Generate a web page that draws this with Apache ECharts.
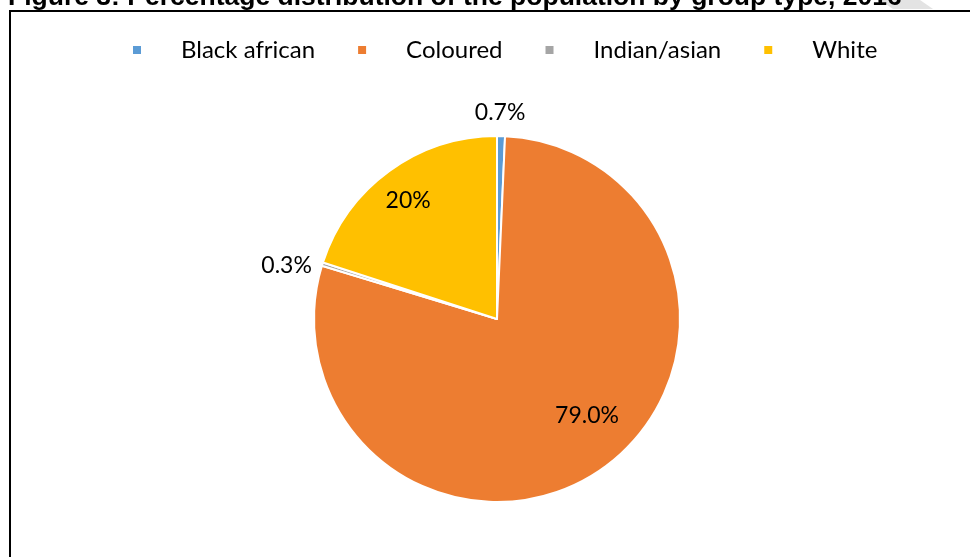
<!DOCTYPE html>
<html>
<head>
<meta charset="utf-8">
<script src="https://cdn.jsdelivr.net/npm/echarts@6/dist/echarts.min.js"></script>
<style>
  html, body { margin: 0; padding: 0; background: #ffffff; }
  #chart { width: 970px; height: 557px; }
</style>
</head>
<body>
<div id="chart"></div>
<script>
// Population groups and their share of the population (%)
const groups = ['Black african', 'Coloured', 'Indian/asian', 'White'];
const shares = [0.7, 79.0, 0.3, 20];
const shareLabels = ['0.7%', '79.0%', '0.3%', '20%'];
const groupColors = ['#5B9BD5', '#ED7D31', '#A5A5A5', '#FFC000'];

// Pie geometry
const pieCenter = [497, 319];
const pieRadius = 183;
// Label placement: distance from centre as a share of the radius, and a small angular nudge (deg)
const labelDist = [1.126, 0.723, 1.187, 0.807];
const labelTurn = [-0.4, -7.6, -3.1, -1.0];

const total = shares.reduce((a, b) => a + b, 0);
const midAngles = [];
let acc = 0;
shares.forEach(v => {
  midAngles.push((acc + v / 2) / total * 360);
  acc += v;
});

const chart = echarts.init(document.getElementById('chart'), null, { renderer: 'canvas' });

chart.setOption({
  animation: false,
  backgroundColor: '#ffffff',
  title: {
    text: 'Figure 3: Percentage distribution of the population by group type, 2016',
    left: 8,
    top: -16,
    padding: 0,
    textStyle: {
      fontFamily: 'Liberation Sans',
      fontWeight: 'bold',
      fontSize: 26.5,
      color: '#000000'
    }
  },
  graphic: [
    {
      type: 'polygon',
      z: -10,
      shape: { points: [[880, 0], [920, 0], [933, 9], [893, 9]] },
      style: { fill: '#e3e3e3' },
      silent: true
    },
    {
      type: 'rect',
      z: 10,
      shape: { x: 10, y: 11, width: 1000, height: 600 },
      style: { fill: 'none', stroke: '#000000', lineWidth: 2 },
      silent: true
    }
  ],
  legend: {
    left: 126,
    top: 33,
    itemWidth: 10,
    itemHeight: 10,
    itemGap: 41,
    icon: 'rect',
    selectedMode: false,
    data: groups,
    textStyle: {
      fontFamily: 'Lato',
      fontSize: 24,
      color: '#000000',
      padding: [0, 0, 0, 34]
    }
  },
  series: [{
    type: 'pie',
    center: pieCenter,
    radius: pieRadius,
    startAngle: 90,
    clockwise: true,
    avoidLabelOverlap: false,
    itemStyle: { borderColor: '#ffffff', borderWidth: 2 },
    label: {
      show: true,
      position: 'inside',
      fontFamily: 'Lato',
      fontSize: 23,
      color: '#000000',
      formatter: p => shareLabels[p.dataIndex]
    },
    labelLine: { show: false },
    labelLayout: function (params) {
      const i = params.dataIndex;
      const a = (midAngles[i] + labelTurn[i]) * Math.PI / 180;
      const d = labelDist[i] * pieRadius;
      return {
        x: pieCenter[0] + d * Math.sin(a),
        y: pieCenter[1] - d * Math.cos(a),
        align: 'center',
        verticalAlign: 'middle'
      };
    },
    data: groups.map((g, i) => ({
      name: g,
      value: shares[i],
      itemStyle: { color: groupColors[i] }
    }))
  }]
});
</script>
</body>
</html>
